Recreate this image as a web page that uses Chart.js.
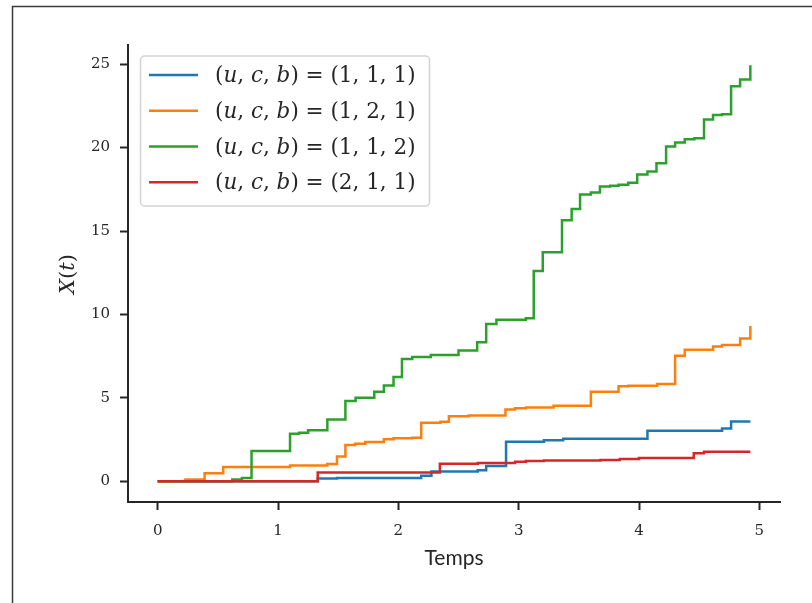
<!DOCTYPE html>
<html>
<head>
<meta charset="utf-8">
<script src="https://cdn.jsdelivr.net/npm/chart.js@4.4.1/dist/chart.umd.min.js"></script>
<style>
  html, body { margin: 0; padding: 0; background: #fff; }
  #wrap { width: 812px; height: 603px; position: relative; }
</style>
</head>
<body>
<div id="wrap"><canvas id="chart" width="812" height="603"></canvas></div>
<script>
// jump times and values after each jump, one pair of arrays per parameter set
const blueT = [0, 1.33, 1.49, 2.19, 2.275, 2.66, 2.73, 2.895, 3.21, 3.37, 4.07, 4.69, 4.765, 4.925];
const blueY = [0, 0.17, 0.2, 0.33, 0.58, 0.66, 0.91, 2.37, 2.45, 2.55, 3.02, 3.16, 3.58, 3.58];

const orangeT = [0, 0.23, 0.39, 0.545, 1.10, 1.41, 1.49, 1.56, 1.64, 1.725, 1.88, 1.96, 2.115, 2.19, 2.35,
  2.42, 2.585, 2.89, 2.97, 3.06, 3.29, 3.60, 3.83, 3.91, 4.15, 4.30, 4.38, 4.615, 4.69, 4.84, 4.925];
const orangeY = [0, 0.1, 0.48, 0.86, 0.94, 1.03, 1.49, 2.17, 2.25, 2.35, 2.51, 2.57, 2.61, 3.50, 3.56,
  3.90, 3.94, 4.30, 4.38, 4.42, 4.52, 5.37, 5.69, 5.73, 5.83, 7.52, 7.88, 8.08, 8.16, 8.56, 9.31];

const greenT = [0, 0.62, 0.70, 0.78, 1.10, 1.175, 1.25, 1.41, 1.56, 1.645, 1.80, 1.88, 1.96, 2.03, 2.115,
  2.27, 2.50, 2.655, 2.73, 2.815, 3.06, 3.125, 3.20, 3.36, 3.44, 3.51, 3.60, 3.675, 3.76, 3.83, 3.91,
  3.985, 4.07, 4.145, 4.225, 4.30, 4.38, 4.46, 4.54, 4.615, 4.69, 4.765, 4.84, 4.925];
const greenY = [0, 0.1, 0.2, 1.81, 2.85, 2.9, 3.06, 3.70, 4.81, 5.0, 5.37, 5.74, 6.25, 7.32, 7.44,
  7.57, 7.84, 8.33, 9.43, 9.68, 9.77, 12.6, 13.73, 15.64, 16.32, 17.19, 17.31, 17.67, 17.71, 17.77, 17.89,
  18.39, 18.57, 19.06, 20.06, 20.3, 20.5, 20.56, 21.69, 21.95, 22.0, 23.68, 24.08, 24.94];

const redT = [0, 1.33, 2.345, 2.66, 2.97, 3.06, 3.21, 3.68, 3.84, 4.00, 4.455, 4.54, 4.925];
const redY = [0, 0.52, 1.05, 1.09, 1.17, 1.21, 1.25, 1.27, 1.33, 1.39, 1.67, 1.77, 1.77];

const params = [[1, 1, 1], [1, 2, 1], [1, 1, 2], [2, 1, 1]];
const xTicks = [0, 1, 2, 3, 4, 5];
const yTicks = [0, 5, 10, 15, 20, 25];

const colors = ["#1f77b4", "#ff7f0e", "#2ca02c", "#d62728"];
const INK = "#262626";

const pts = (ts, ys) => ts.map((t, i) => ({ x: t, y: ys[i] }));
const series = [pts(blueT, blueY), pts(orangeT, orangeY), pts(greenT, greenY), pts(redT, redY)];

// draw a row of text pieces, each with its own font
function drawRuns(ctx, runs, x, y, align) {
  let total = 0;
  runs.forEach(r => { ctx.font = r.font; total += ctx.measureText(r.text).width; });
  let cx = align === "center" ? x - total / 2 : x;
  ctx.textAlign = "left";
  runs.forEach(r => {
    ctx.font = r.font;
    ctx.fillText(r.text, cx, y);
    cx += ctx.measureText(r.text).width;
  });
}

const SERIF = "'DejaVu Serif', serif";

const decorations = {
  id: "decorations",
  afterDraw(chart) {
    const ctx = chart.ctx;
    ctx.save();

    // outer frame
    ctx.strokeStyle = "#3a3a3a";
    ctx.lineWidth = 1.5;
    ctx.beginPath();
    ctx.moveTo(12.5, 603);
    ctx.lineTo(12.5, 6.5);
    ctx.lineTo(812, 6.5);
    ctx.stroke();

    ctx.fillStyle = INK;
    ctx.textBaseline = "alphabetic";

    // axis titles
    ctx.font = "21px Lato, sans-serif";
    ctx.textAlign = "center";
    ctx.fillText("Temps", 454, 565);

    ctx.save();
    ctx.translate(74, 274);
    ctx.rotate(-Math.PI / 2);
    drawRuns(ctx, [
      { text: "X", font: "italic 21px " + SERIF },
      { text: "(", font: "21px " + SERIF },
      { text: "t", font: "italic 21px " + SERIF },
      { text: ")", font: "21px " + SERIF }
    ], 0, 0, "center");
    ctx.restore();

    // legend box
    const bx = 140.5, by = 56, bw = 289, bh = 150, r = 4;
    ctx.beginPath();
    ctx.roundRect(bx, by, bw, bh, r);
    ctx.fillStyle = "rgba(255,255,255,0.8)";
    ctx.fill();
    ctx.strokeStyle = "#d3d3d3";
    ctx.lineWidth = 1.5;
    ctx.stroke();

    const rows = [75, 110.7, 146.5, 182.2];
    const it = "italic 21.5px " + SERIF, up = "21.5px " + SERIF;
    params.forEach((p, i) => {
      const y = rows[i];
      ctx.strokeStyle = colors[i];
      ctx.lineWidth = 2.5;
      ctx.beginPath();
      ctx.moveTo(149, y);
      ctx.lineTo(198, y);
      ctx.stroke();
      ctx.fillStyle = INK;
      drawRuns(ctx, [
        { text: "(", font: up }, { text: "u", font: it },
        { text: ", ", font: up }, { text: "c", font: it },
        { text: ", ", font: up }, { text: "b", font: it },
        { text: ") = (" + p.join(", ") + ")", font: up }
      ], 215, y + 7, "left");
    });

    ctx.restore();
  }
};

const axisCommon = {
  type: "linear",
  grid: {
    display: true,
    drawOnChartArea: false,
    drawTicks: true,
    tickLength: 8,
    tickWidth: 2,
    tickColor: INK
  },
  border: { display: true, color: INK, width: 2 },
  ticks: {
    color: INK,
    font: { family: "DejaVu Serif", size: 15 },
    maxRotation: 0,
    autoSkip: false,
    callback: v => String(v)
  }
};

new Chart(document.getElementById("chart"), {
  type: "line",
  data: {
    datasets: series.map((d, i) => ({
      label: "(u, c, b) = (" + params[i].join(", ") + ")",
      data: d,
      borderColor: colors[i],
      backgroundColor: colors[i],
      borderWidth: 2.5,
      // horizontal run first, then the jump at the next time
      stepped: "before",
      pointRadius: 0,
      fill: false,
      order: 3 - i
    }))
  },
  options: {
    responsive: false,
    animation: false,
    layout: { padding: { top: 45, right: 32, bottom: 0, left: 0 } },
    plugins: {
      legend: { display: false },
      tooltip: { enabled: false }
    },
    scales: {
      x: {
        ...axisCommon,
        min: -0.2465,
        max: 5.1715,
        ticks: { ...axisCommon.ticks, padding: 12 },
        afterBuildTicks: s => { s.ticks = xTicks.map(v => ({ value: v })); },
        afterFit: s => { s.height = 101; }
      },
      y: {
        ...axisCommon,
        min: -1.245,
        max: 26.15,
        ticks: { ...axisCommon.ticks, padding: 10 },
        afterBuildTicks: s => { s.ticks = yTicks.map(v => ({ value: v })); },
        afterFit: s => { s.width = 128; }
      }
    }
  },
  plugins: [decorations]
});
</script>
</body>
</html>
